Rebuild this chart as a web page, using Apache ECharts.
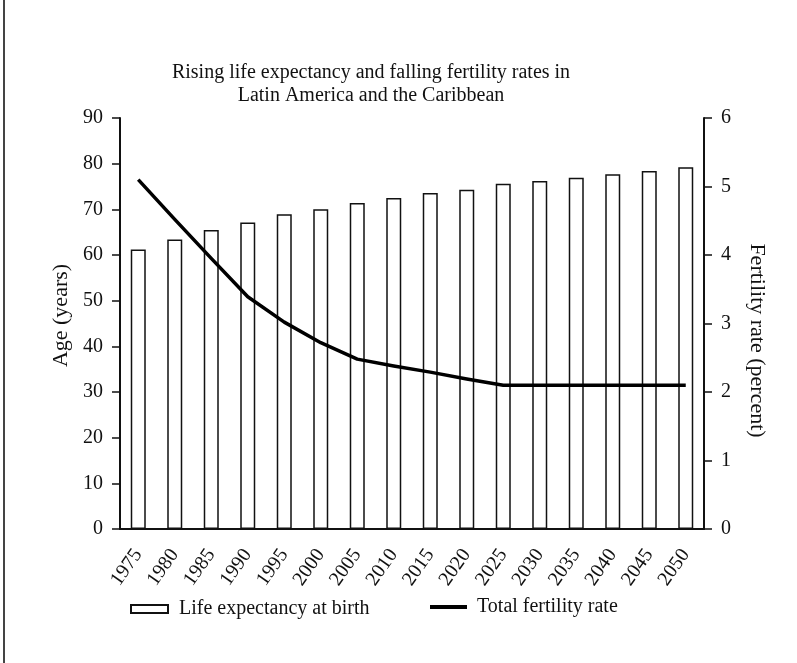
<!DOCTYPE html>
<html>
<head>
<meta charset="utf-8">
<script src="https://cdn.jsdelivr.net/npm/echarts@6/dist/echarts.min.js"></script>
<style>
  html, body { margin: 0; padding: 0; background: #fff; }
  #myChart { width: 797px; height: 663px; }
</style>
</head>
<body>
<div id="myChart"></div>
<script>
// years on the x axis
var years = ['1975', '1980', '1985', '1990', '1995', '2000', '2005', '2010',
  '2015', '2020', '2025', '2030', '2035', '2040', '2045', '2050']
// life expectancy at birth (left axis, years)
var lifeExpectancy = [61.2, 63.4, 65.5, 67.1, 68.9, 70.0, 71.4, 72.5,
  73.6, 74.3, 75.6, 76.2, 76.9, 77.7, 78.4, 79.2]
// total fertility rate (right axis)
var fertilityRate = [5.1, 4.52, 3.95, 3.39, 3.02, 2.72, 2.48, 2.38,
  2.29, 2.19, 2.1, 2.1, 2.1, 2.1, 2.1, 2.1]

var serif = '"Liberation Serif", "DejaVu Serif", serif'
var ink = '#111'

var myChart = echarts.init(document.getElementById('myChart'))
myChart.setOption({
  animation: false,
  backgroundColor: '#ffffff',
  textStyle: { fontFamily: serif, color: ink },
  title: {
    text: 'Rising life expectancy and falling fertility rates in\nLatin America and the Caribbean',
    left: 371,
    top: 61,
    padding: 0,
    textAlign: 'center',
    textStyle: { fontFamily: serif, fontWeight: 'normal', fontSize: 20, lineHeight: 23, color: ink }
  },
  graphic: [
    // left frame line of the picture
    { type: 'line', shape: { x1: 4, y1: 0, x2: 4, y2: 663 }, style: { stroke: '#444', lineWidth: 2 } }
  ],
  grid: { left: 120, right: 93, top: 118, bottom: 134 },
  legend: [
    {
      left: 125,
      top: 594,
      icon: 'rect',
      itemWidth: 37,
      itemHeight: 8,
      textStyle: { fontFamily: serif, fontSize: 20, color: ink, padding: [0, 0, 0, 6] },
      data: ['Life expectancy at birth']
    },
    {
      left: 425,
      top: 592,
      icon: 'rect',
      itemWidth: 37,
      itemHeight: 4,
      textStyle: { fontFamily: serif, fontSize: 20, color: ink, padding: [0, 0, 0, 5] },
      data: ['Total fertility rate']
    }
  ],
  xAxis: {
    type: 'category',
    data: years,
    boundaryGap: true,
    axisLine: { lineStyle: { color: ink, width: 2 } },
    axisTick: { length: 8, lineStyle: { color: ink, width: 1.5 } },
    axisLabel: { rotate: 55, margin: 22, fontSize: 20, color: ink, fontFamily: serif, interval: 0 }
  },
  yAxis: [
    {
      type: 'value',
      min: 0, max: 90, interval: 10,
      name: 'Age (years)',
      nameLocation: 'middle',
      nameGap: 41,
      nameTextStyle: { fontSize: 22, color: ink, fontFamily: serif, padding: [0, 0, 0, 16] },
      axisLine: { show: true, lineStyle: { color: ink, width: 2 } },
      axisTick: { show: true, length: 8, lineStyle: { color: ink, width: 1.5 } },
      axisLabel: { margin: 17, fontSize: 20, color: ink, fontFamily: serif },
      splitLine: { show: false }
    },
    {
      type: 'value',
      min: 0, max: 6, interval: 1,
      position: 'right',
      name: 'Fertility rate (percent)',
      nameLocation: 'middle',
      nameGap: 42,
      nameRotate: -90,
      nameTextStyle: { fontSize: 22, color: ink, fontFamily: serif, padding: [0, 0, 0, 34] },
      axisLine: { show: true, lineStyle: { color: ink, width: 2 } },
      axisTick: { show: true, length: 8, lineStyle: { color: ink, width: 1.5 } },
      axisLabel: { margin: 17, fontSize: 20, color: ink, fontFamily: serif },
      splitLine: { show: false }
    }
  ],
  series: [
    {
      name: 'Life expectancy at birth',
      type: 'bar',
      yAxisIndex: 0,
      barWidth: 15,
      itemStyle: { color: '#ffffff', borderColor: ink, borderWidth: 1.5 },
      data: lifeExpectancy
    },
    {
      name: 'Total fertility rate',
      type: 'line',
      yAxisIndex: 1,
      symbol: 'none',
      lineStyle: { color: '#000', width: 3.5, join: 'round' },
      itemStyle: { color: '#000' },
      data: fertilityRate
    }
  ]
})
</script>
</body>
</html>
